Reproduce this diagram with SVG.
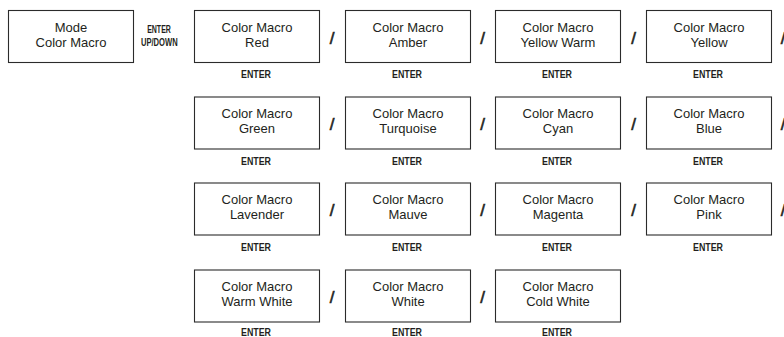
<svg xmlns="http://www.w3.org/2000/svg" width="784" height="337" viewBox="0 0 784 337">
<style>
.box{fill:#fff;stroke:#2b2b2b;stroke-width:1.1}
.t{font-family:"Liberation Sans",Arial,sans-serif;font-size:13px;fill:#231f20;text-anchor:middle}
.e{font-family:"Liberation Sans",Arial,sans-serif;font-size:10.5px;font-weight:bold;fill:#231f20;text-anchor:middle}
.s{font-family:"Liberation Sans",Arial,sans-serif;font-size:17px;fill:#231f20;stroke:#231f20;stroke-width:0.6;text-anchor:middle}
</style>
<rect width="784" height="337" fill="#fff"/>
<g id="mode">
<rect class="box" x="8.5" y="10.5" width="125" height="52"/>
<text class="t" x="71" y="31.5">Mode</text>
<text class="t" x="71" y="46.5">Color Macro</text>
</g>
<g id="enter-updown">
<text class="e" x="159" y="33.3" textLength="23.7" lengthAdjust="spacingAndGlyphs">ENTER</text>
<text class="e" x="159.3" y="45.7" textLength="36.7" lengthAdjust="spacingAndGlyphs">UP/DOWN</text>
</g>
<g id="red"><rect class="box" x="194.5" y="10.5" width="125" height="52"/><text class="t" x="257" y="31.5">Color Macro</text><text class="t" x="257" y="46.5">Red</text><text class="e" x="256" y="78" textLength="30" lengthAdjust="spacingAndGlyphs">ENTER</text></g>
<g id="amber"><rect class="box" x="345.5" y="10.5" width="125" height="52"/><text class="t" x="408" y="31.5">Color Macro</text><text class="t" x="408" y="46.5">Amber</text><text class="e" x="407" y="78" textLength="30" lengthAdjust="spacingAndGlyphs">ENTER</text></g>
<g id="yellow-warm"><rect class="box" x="495.5" y="10.5" width="125" height="52"/><text class="t" x="558" y="31.5">Color Macro</text><text class="t" x="558" y="46.5">Yellow Warm</text><text class="e" x="557" y="78" textLength="30" lengthAdjust="spacingAndGlyphs">ENTER</text></g>
<g id="yellow"><rect class="box" x="646.5" y="10.5" width="125" height="52"/><text class="t" x="709" y="31.5">Color Macro</text><text class="t" x="709" y="46.5">Yellow</text><text class="e" x="708" y="78" textLength="30" lengthAdjust="spacingAndGlyphs">ENTER</text></g>

<g id="green"><rect class="box" x="194.5" y="97" width="125" height="52"/><text class="t" x="257" y="118">Color Macro</text><text class="t" x="257" y="133">Green</text><text class="e" x="256" y="164.5" textLength="30" lengthAdjust="spacingAndGlyphs">ENTER</text></g>
<g id="turquoise"><rect class="box" x="345.5" y="97" width="125" height="52"/><text class="t" x="408" y="118">Color Macro</text><text class="t" x="408" y="133">Turquoise</text><text class="e" x="407" y="164.5" textLength="30" lengthAdjust="spacingAndGlyphs">ENTER</text></g>
<g id="cyan"><rect class="box" x="495.5" y="97" width="125" height="52"/><text class="t" x="558" y="118">Color Macro</text><text class="t" x="558" y="133">Cyan</text><text class="e" x="557" y="164.5" textLength="30" lengthAdjust="spacingAndGlyphs">ENTER</text></g>
<g id="blue"><rect class="box" x="646.5" y="97" width="125" height="52"/><text class="t" x="709" y="118">Color Macro</text><text class="t" x="709" y="133">Blue</text><text class="e" x="708" y="164.5" textLength="30" lengthAdjust="spacingAndGlyphs">ENTER</text></g>

<g id="lavender"><rect class="box" x="194.5" y="183" width="125" height="52"/><text class="t" x="257" y="204">Color Macro</text><text class="t" x="257" y="219">Lavender</text><text class="e" x="256" y="250.5" textLength="30" lengthAdjust="spacingAndGlyphs">ENTER</text></g>
<g id="mauve"><rect class="box" x="345.5" y="183" width="125" height="52"/><text class="t" x="408" y="204">Color Macro</text><text class="t" x="408" y="219">Mauve</text><text class="e" x="407" y="250.5" textLength="30" lengthAdjust="spacingAndGlyphs">ENTER</text></g>
<g id="magenta"><rect class="box" x="495.5" y="183" width="125" height="52"/><text class="t" x="558" y="204">Color Macro</text><text class="t" x="558" y="219">Magenta</text><text class="e" x="557" y="250.5" textLength="30" lengthAdjust="spacingAndGlyphs">ENTER</text></g>
<g id="pink"><rect class="box" x="646.5" y="183" width="125" height="52"/><text class="t" x="709" y="204">Color Macro</text><text class="t" x="709" y="219">Pink</text><text class="e" x="708" y="250.5" textLength="30" lengthAdjust="spacingAndGlyphs">ENTER</text></g>

<g id="warm-white"><rect class="box" x="194.5" y="270" width="125" height="52"/><text class="t" x="257" y="291">Color Macro</text><text class="t" x="257" y="306">Warm White</text><text class="e" x="256" y="335.5" textLength="30" lengthAdjust="spacingAndGlyphs">ENTER</text></g>
<g id="white"><rect class="box" x="345.5" y="270" width="125" height="52"/><text class="t" x="408" y="291">Color Macro</text><text class="t" x="408" y="306">White</text><text class="e" x="407" y="335.5" textLength="30" lengthAdjust="spacingAndGlyphs">ENTER</text></g>
<g id="cold-white"><rect class="box" x="495.5" y="270" width="125" height="52"/><text class="t" x="558" y="291">Color Macro</text><text class="t" x="558" y="306">Cold White</text><text class="e" x="557" y="335.5" textLength="30" lengthAdjust="spacingAndGlyphs">ENTER</text></g>

<g id="separators">
<text class="s" x="332" y="43.5">/</text><text class="s" x="482.5" y="43.5">/</text><text class="s" x="633.5" y="43.5">/</text><text class="s" x="783" y="43.5">/</text>
<text class="s" x="332" y="130">/</text><text class="s" x="482.5" y="130">/</text><text class="s" x="633.5" y="130">/</text><text class="s" x="783" y="130">/</text>
<text class="s" x="332" y="216">/</text><text class="s" x="482.5" y="216">/</text><text class="s" x="633.5" y="216">/</text><text class="s" x="783" y="216">/</text>
<text class="s" x="332" y="303">/</text><text class="s" x="482.5" y="303">/</text>
</g>
</svg>
